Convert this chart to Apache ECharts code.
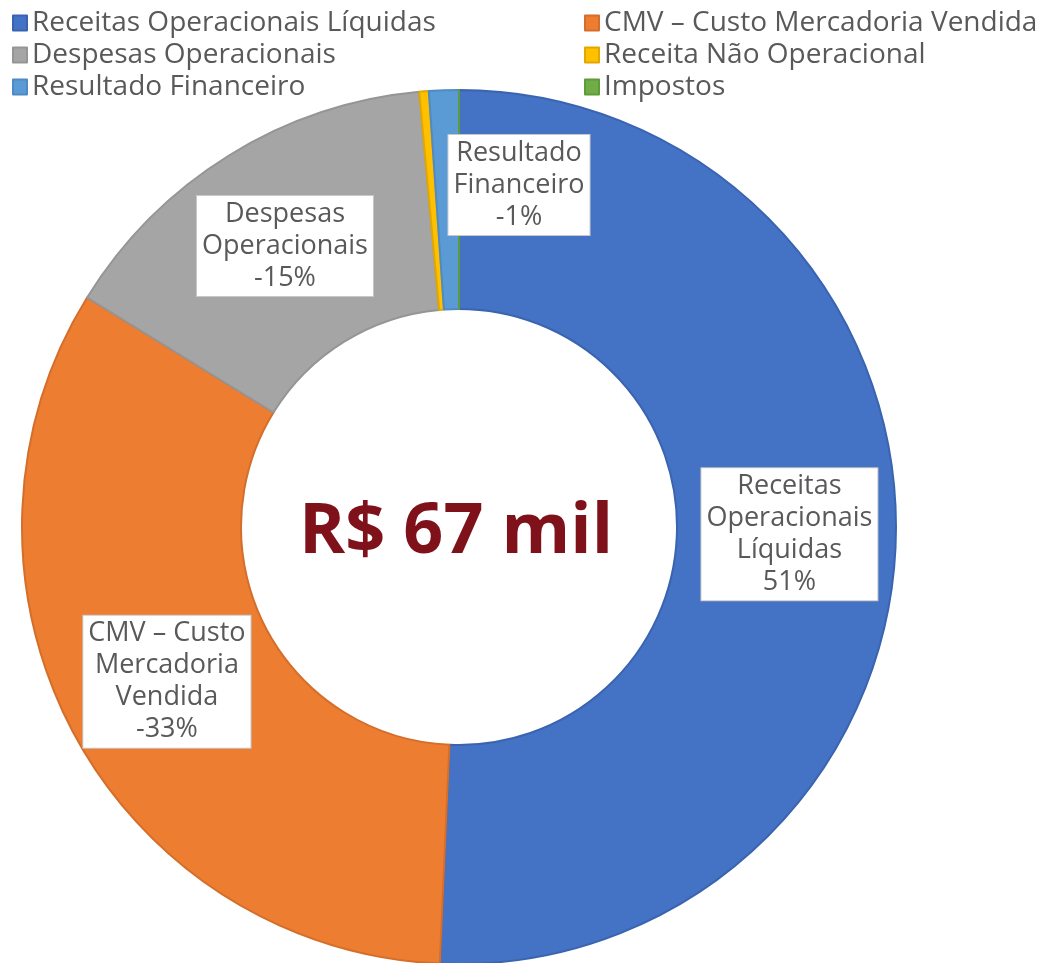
<!DOCTYPE html>
<html>
<head>
<meta charset="utf-8">
<script src="https://cdn.jsdelivr.net/npm/echarts@6/dist/echarts.min.js"></script>
<style>
  html, body { margin: 0; padding: 0; background: #fff; }
  #chart { width: 1040px; height: 963px; }
</style>
</head>
<body>
<div id="chart"></div>
<script>
// categorias e valores (% do total, com sinal)
var categorias = [
  'Receitas Operacionais Líquidas',
  'CMV – Custo Mercadoria Vendida',
  'Despesas Operacionais',
  'Receita Não Operacional',
  'Resultado Financeiro',
  'Impostos'
];
var valores = [50.7, -33.1, -14.75, 0.35, -1.1, 0];
var rotulos = ['Receitas\nOperacionais\nLíquidas', 'CMV – Custo\nMercadoria\nVendida', 'Despesas\nOperacionais', '', 'Resultado\nFinanceiro', ''];
var cores = ['#4472C4', '#ED7D31', '#A5A5A5', '#FFC000', '#5B9BD5', '#70AD47'];
var bordas = ['#3A64B0', '#D46E2A', '#959595', '#E0A800', '#4F8AC2', '#5F9A3B'];
var totalTexto = 'R$ 67 mil';

var fonte = '"Open Sans", "Noto Sans", sans-serif';

var dados = categorias.map(function (nome, i) {
  return {
    name: nome,
    value: Math.abs(valores[i]),
    itemStyle: { color: cores[i], borderColor: bordas[i] },
    label: { show: rotulos[i] !== '' }
  };
});

var legendaBase = {
  orient: 'vertical',
  top: 7,
  padding: 0,
  icon: 'rect',
  itemWidth: 14,
  itemHeight: 15,
  itemGap: 0,
  textStyle: { color: '#595959', fontSize: 28, fontFamily: fonte, lineHeight: 32 }
};

var option = {
  animation: false,
  color: cores,
  legend: [
    Object.assign({}, legendaBase, { left: 12, data: [categorias[0], categorias[2], categorias[4]] }),
    Object.assign({}, legendaBase, { left: 584, data: [categorias[1], categorias[3], categorias[5]] })
  ],
  graphic: [{
    type: 'text',
    x: 456,
    y: 533,
    style: {
      text: totalTexto,
      fill: '#7F111B',
      font: 'bold 70px ' + fonte,
      textAlign: 'center',
      textVerticalAlign: 'middle'
    }
  }],
  series: [{
    type: 'pie',
    center: [459, 527],
    radius: [218, 437],
    startAngle: 90,
    clockwise: true,
    avoidLabelOverlap: false,
    itemStyle: { borderWidth: 2 },
    label: {
      show: true,
      position: 'inside',
      color: '#595959',
      fontSize: 27,
      fontFamily: fonte,
      lineHeight: 32,
      backgroundColor: '#fff',
      borderColor: '#C8C8C8',
      borderWidth: 1,
      padding: [2, 5, 2, 5],
      formatter: function (p) {
        var v = Math.round(valores[p.dataIndex]);
        return rotulos[p.dataIndex] + '\n' + v + '%';
      }
    },
    labelLine: { show: false },
    labelLayout: function (p) {
      // rótulo do Resultado Financeiro deslocado para a direita, como no original
      if (p.dataIndex === 4) return { x: 519, y: 185 };
      return {};
    },
    emphasis: { disabled: true },
    data: dados
  }]
};

var chart = echarts.init(document.getElementById('chart'));
chart.setOption(option);
window.addEventListener('resize', chart.resize);
</script>
</body>
</html>
